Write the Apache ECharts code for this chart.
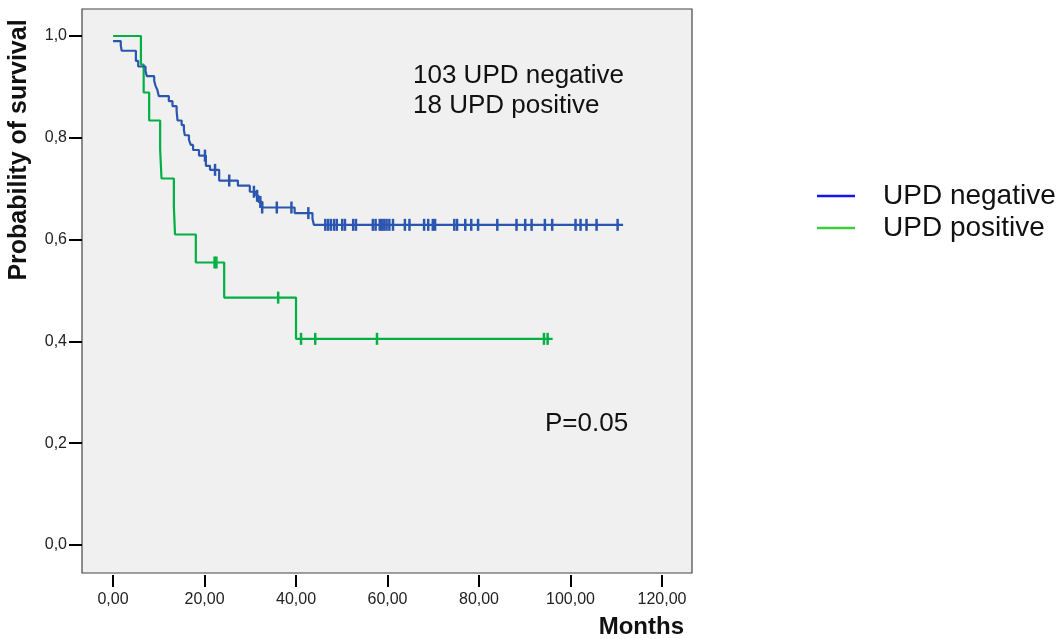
<!DOCTYPE html>
<html>
<head>
<meta charset="utf-8">
<script src="https://cdn.jsdelivr.net/npm/echarts@6/dist/echarts.min.js"></script>
<style>
    html, body { margin: 0; background: #fff; }
    #chart { width: 1064px; height: 639px; }
</style>
</head>
<body>
<div id="chart"></div>
<script>
// Kaplan-Meier steps (months, survival)
const negTimes = [0, 1.7, 1.9, 5.0, 5.5, 7.1, 7.4, 9.0, 9.3, 9.7, 10.0, 12.2, 13.0, 13.9, 14.1, 15.0, 15.5, 15.7, 16.6, 17.0, 17.5, 18.8, 20.3, 21.2, 23.2, 27.3, 29.9, 31.3, 31.8, 32.6, 39.7, 43.6, 43.9, 111.5]
const negSurv  = [0.990, 0.981, 0.971, 0.951, 0.940, 0.931, 0.921, 0.912, 0.902, 0.894, 0.882, 0.872, 0.862, 0.853, 0.834, 0.825, 0.815, 0.805, 0.796, 0.786, 0.776, 0.765, 0.745, 0.737, 0.716, 0.706, 0.694, 0.686, 0.674, 0.663, 0.652, 0.641, 0.629, 0.629]
const negCensor = [20.1, 22.3, 25.4, 30.8, 31.5, 32.2, 32.6, 35.8, 39.0, 42.7,
    46.4, 47.0, 47.6, 48.3, 48.9, 50.1, 50.7, 52.5, 53.1, 56.8, 57.4, 58.3, 58.8, 59.3, 59.8, 60.4,
    61.2, 63.8, 64.8, 68.0, 68.9, 69.9, 70.4, 74.6, 75.2, 77.0, 78.3, 79.8, 84.0, 88.2, 90.1, 91.5,
    94.4, 96.0, 101.1, 102.2, 103.5, 105.7, 110.3]

const posTimes = [0, 6.1, 6.7, 7.9, 10.3, 10.6, 13.3, 13.55, 18.1, 24.3, 40.0, 96.1]
const posSurv  = [1.0, 0.944, 0.889, 0.834, 0.777, 0.720, 0.665, 0.610, 0.555, 0.486, 0.405, 0.405]
const posCensor = [22.2, 22.6, 36.1, 41.1, 44.2, 57.7, 94.2, 95.0]

const xTicks = [0, 20, 40, 60, 80, 100, 120]
const yTicks = [0, 0.2, 0.4, 0.6, 0.8, 1.0]

const NEG_COLOR = '#2b56b0'
const POS_COLOR = '#00b043'
const FONT = "'Liberation Sans', Arial, sans-serif"

// survival level of a step curve at time t
function levelAt(times, surv, t) {
    let v = surv[0]
    for (let i = 0; i < times.length; i++) {
        if (times[i] <= t) v = surv[i]
        else break
    }
    return v
}

const toPairs = (xs, ys) => xs.map((x, i) => [x, ys[i]])
const censorPairs = (cs, times, surv) => cs.map(t => [t, levelAt(times, surv, t)])

const chart = echarts.init(document.getElementById('chart'), null, { renderer: 'canvas' })

chart.setOption({
    animation: false,
    textStyle: { fontFamily: FONT },
    grid: {
        left: 82, top: 9, width: 610, height: 564,
        show: true, backgroundColor: '#f0f0f0', borderColor: '#444', borderWidth: 1.2
    },
    xAxis: {
        type: 'value',
        min: -6.78, max: 126.56,
        offset: 2,
        axisLine: { show: false, onZero: false },
        splitLine: { show: false },
        axisTick: { show: true, length: 12, customValues: xTicks, lineStyle: { color: '#000', width: 2 } },
        axisLabel: {
            customValues: xTicks, margin: 17, fontSize: 16, color: '#222', fontFamily: FONT,
            formatter: v => v.toFixed(2).replace('.', ',')
        }
    },
    yAxis: {
        type: 'value',
        min: -0.055, max: 1.053,
        axisLine: { show: false, onZero: false },
        splitLine: { show: false },
        axisTick: { show: true, length: 13, customValues: yTicks, lineStyle: { color: '#000', width: 2 } },
        axisLabel: {
            customValues: yTicks, margin: 15, fontSize: 16, color: '#222', fontFamily: FONT,
            formatter: v => v.toFixed(1).replace('.', ',')
        }
    },
    legend: {
        left: 817, top: 180, orient: 'vertical',
        padding: 0, itemGap: 0,
        icon: 'rect', itemWidth: 38, itemHeight: 2.5,
        selectedMode: false,
        textStyle: { fontSize: 28, lineHeight: 32, color: '#111', fontFamily: FONT, padding: [0, 0, 0, 23] },
        data: [
            { name: 'UPD negative', itemStyle: { color: '#1414f0' } },
            { name: 'UPD positive', itemStyle: { color: '#3ccc3c' } }
        ]
    },
    graphic: [
        { type: 'text', left: 413, top: 63, style: { text: '103 UPD negative', fontSize: 26, fill: '#111', fontFamily: FONT } },
        { type: 'text', left: 413, top: 93, style: { text: '18 UPD positive', fontSize: 26, fill: '#111', fontFamily: FONT } },
        { type: 'text', left: 545, top: 411, style: { text: 'P=0.05', fontSize: 26, fill: '#111', fontFamily: FONT } },
        { type: 'text', right: 380, top: 615, style: { text: 'Months', fontSize: 24, fontWeight: 'bold', fill: '#111', fontFamily: FONT } },
        {
            type: 'text', x: 7, y: 150, rotation: Math.PI / 2,
            style: { text: 'Probability of survival', fontSize: 25, fontWeight: 'bold', fill: '#111', fontFamily: FONT, align: 'center', verticalAlign: 'top' }
        }
    ],
    series: [
        {
            name: 'UPD positive', type: 'line', step: 'end', showSymbol: false, z: 2,
            data: toPairs(posTimes, posSurv),
            lineStyle: { color: POS_COLOR, width: 2.2 }, itemStyle: { color: POS_COLOR }
        },
        {
            name: 'UPD positive censored', type: 'scatter', symbol: 'rect', symbolSize: [2.5, 12], z: 2,
            data: censorPairs(posCensor, posTimes, posSurv),
            itemStyle: { color: POS_COLOR, opacity: 1 }
        },
        {
            name: 'UPD negative', type: 'line', step: 'end', showSymbol: false, z: 3,
            data: toPairs(negTimes, negSurv),
            lineStyle: { color: NEG_COLOR, width: 2.2 }, itemStyle: { color: NEG_COLOR }
        },
        {
            name: 'UPD negative censored', type: 'scatter', symbol: 'rect', symbolSize: [2.5, 12], z: 3,
            data: censorPairs(negCensor, negTimes, negSurv),
            itemStyle: { color: NEG_COLOR, opacity: 1 }
        }
    ]
})
</script>
</body>
</html>
